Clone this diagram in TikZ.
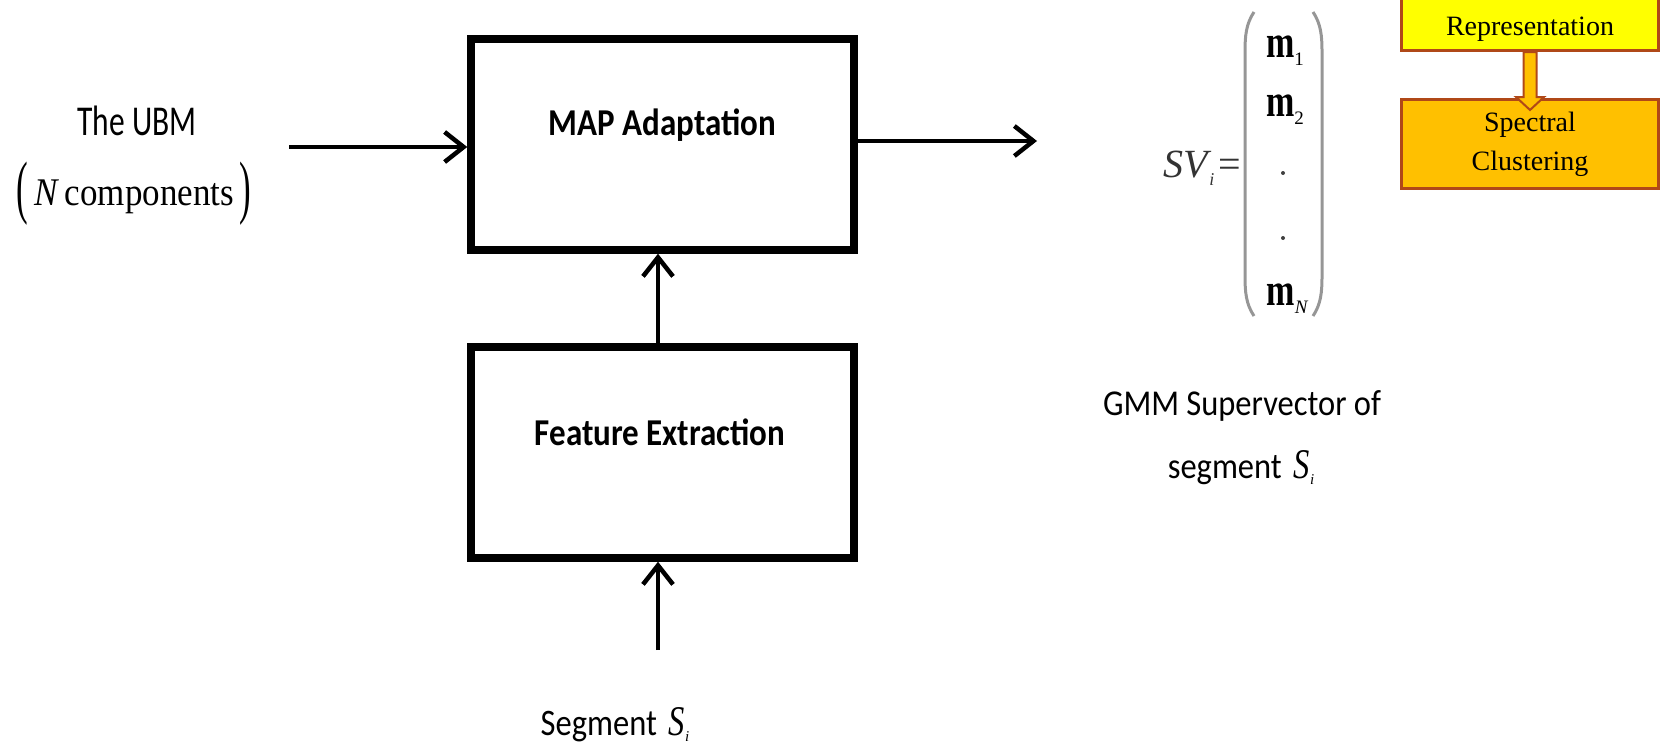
\documentclass[tikz,border=0pt]{standalone}
\usepackage{fontspec}
\setmainfont{Liberation Serif}
\newfontfamily\sansfnt{Carlito}
\usetikzlibrary{arrows.meta,calc}
\definecolor{repyellow}{RGB}{255,255,0}
\definecolor{specorange}{RGB}{255,192,0}
\definecolor{rimbrown}{RGB}{176,72,24}
\definecolor{pargray}{RGB}{150,150,150}
% vertical stretch of a piece of text
\newcommand{\tallx}[2]{\scalebox{1}[#1]{#2}}
% segment symbol S_i
\newcommand{\segsym}{\tallx{1.3}{\rmfamily\itshape S}\raisebox{-6pt}{\fontsize{15}{15}\selectfont\rmfamily\itshape i}}
% subscript of a vector entry
\newcommand{\entrysub}[1]{\raisebox{-8pt}{\fontsize{19}{19}\selectfont\mdseries #1}}

\begin{document}
\begin{tikzpicture}[x=1pt,y=1pt,
  block/.style={draw, line width=7.5pt, minimum width=383pt, minimum height=211pt, inner sep=0pt},
  flow/.style={line width=4.5pt, -{Straight Barb[length=19pt,width=30pt]}},
  lbl/.style={inner sep=0pt, anchor=base},
  blocktext/.style={lbl, font=\sansfnt\bfseries\fontsize{33}{40}\selectfont},
  plaintext/.style={lbl, font=\sansfnt\fontsize{32.5}{40}\selectfont},
  smallbox/.style={draw=rimbrown, line width=3pt, inner sep=0pt, minimum width=257pt},
  paren/.style={draw=pargray, line width=3pt},
  entry/.style={lbl, font=\fontsize{34}{34}\selectfont\bfseries},
  dotmark/.style={circle, fill=black!75, inner sep=0pt, minimum size=4pt}
]
\useasboundingbox (0,0) rectangle (1665,-744);

% processing blocks
\node[block] (map) at (662.5,-144.5) {};
\node[block] (fe) at (662.5,-452.5) {};
\node[blocktext] (maptxt) at (662.5,-135) {\tallx{1.15}{MAP Adaptation}};
\node[blocktext] (fetxt) at (660,-445) {\tallx{1.15}{Feature Extraction}};

% inputs and outputs
\node[lbl, font=\sansfnt\fontsize{31.5}{38}\selectfont] (ubm) at (137,-135) {\tallx{1.35}{The UBM}};
\node[lbl, font=\fontsize{35}{40}\selectfont] (ncomp) at (134,-205)
  {\raisebox{-5pt}{\tallx{2}{(}}\,\tallx{1.12}{\textit{N}\,components}\,\raisebox{-5pt}{\tallx{2}{)}}};
\node[plaintext] (seg) at (615,-735) {\tallx{1.15}{Segment}\hspace{12pt}\segsym};
\node[plaintext] (gmm1) at (1242,-415) {\tallx{1.12}{GMM Supervector of}};
\node[plaintext] (gmm2) at (1241,-478) {\tallx{1.12}{segment}\hspace{12pt}\segsym};

% connectors
\coordinate (ubmend) at (289,-147);
\coordinate (outend) at (1037,-141);
\coordinate (segend) at (658,-650);
\draw[flow] (ubmend) -- (ubmend -| map.west);
\draw[flow] (outend -| map.east) -- (outend);
\draw[flow] (segend) -- (segend |- fe.south);
\draw[flow] (segend |- fe.north) -- (segend |- map.south);

% supervector
\node[lbl, anchor=base west, text=black!80, font=\fontsize{40}{40}\selectfont] (sv) at (1163,-177)
  {\textit{SV}\hspace{-2pt}\raisebox{-8pt}{\fontsize{18}{18}\selectfont\itshape i}\hspace{4pt}=};
\draw[paren] (1254,-12) .. controls (1246,-24) and (1245,-36) .. (1245,-52) -- (1245,-276)
  .. controls (1245,-292) and (1246,-304) .. (1254,-316);
\draw[paren] (1313,-12) .. controls (1321,-24) and (1322,-36) .. (1322,-52) -- (1322,-276)
  .. controls (1322,-292) and (1321,-304) .. (1313,-316);
\node[entry] (m1) at (1285,-57) {\tallx{1.35}{m}\entrysub{1}};
\node[entry] (m2) at (1285,-116) {\tallx{1.35}{m}\entrysub{2}};
\node[dotmark] (d1) at (1283,-173) {};
\node[dotmark] (d2) at (1283,-238) {};
\node[entry] (mn) at (1287,-305) {\tallx{1.35}{m}\entrysub{\itshape N}};

% pipeline boxes at the top right
\node[smallbox, fill=repyellow, minimum height=110pt] (rep) at (1530,4.5) {};
\node[lbl, font=\fontsize{28}{28}\selectfont] (reptxt) at (1530,-35) {Representation};
\node[smallbox, fill=specorange, minimum height=89pt, align=center, font=\fontsize{28}{39}\selectfont]
  (spec) at (1530,-144) {Spectral\\Clustering};
\draw[rimbrown, fill=specorange, line width=2pt]
  ($(rep.south)+(-6.5,0)$) -- ($(rep.south)+(6.5,0)$) -- ($(spec.north)+(6.5,1)$)
  -- ($(spec.north)+(14,1)$) -- ($(spec.north)+(0,-12)$) -- ($(spec.north)+(-14,1)$)
  -- ($(spec.north)+(-6.5,1)$) -- cycle;
\end{tikzpicture}
\end{document}
